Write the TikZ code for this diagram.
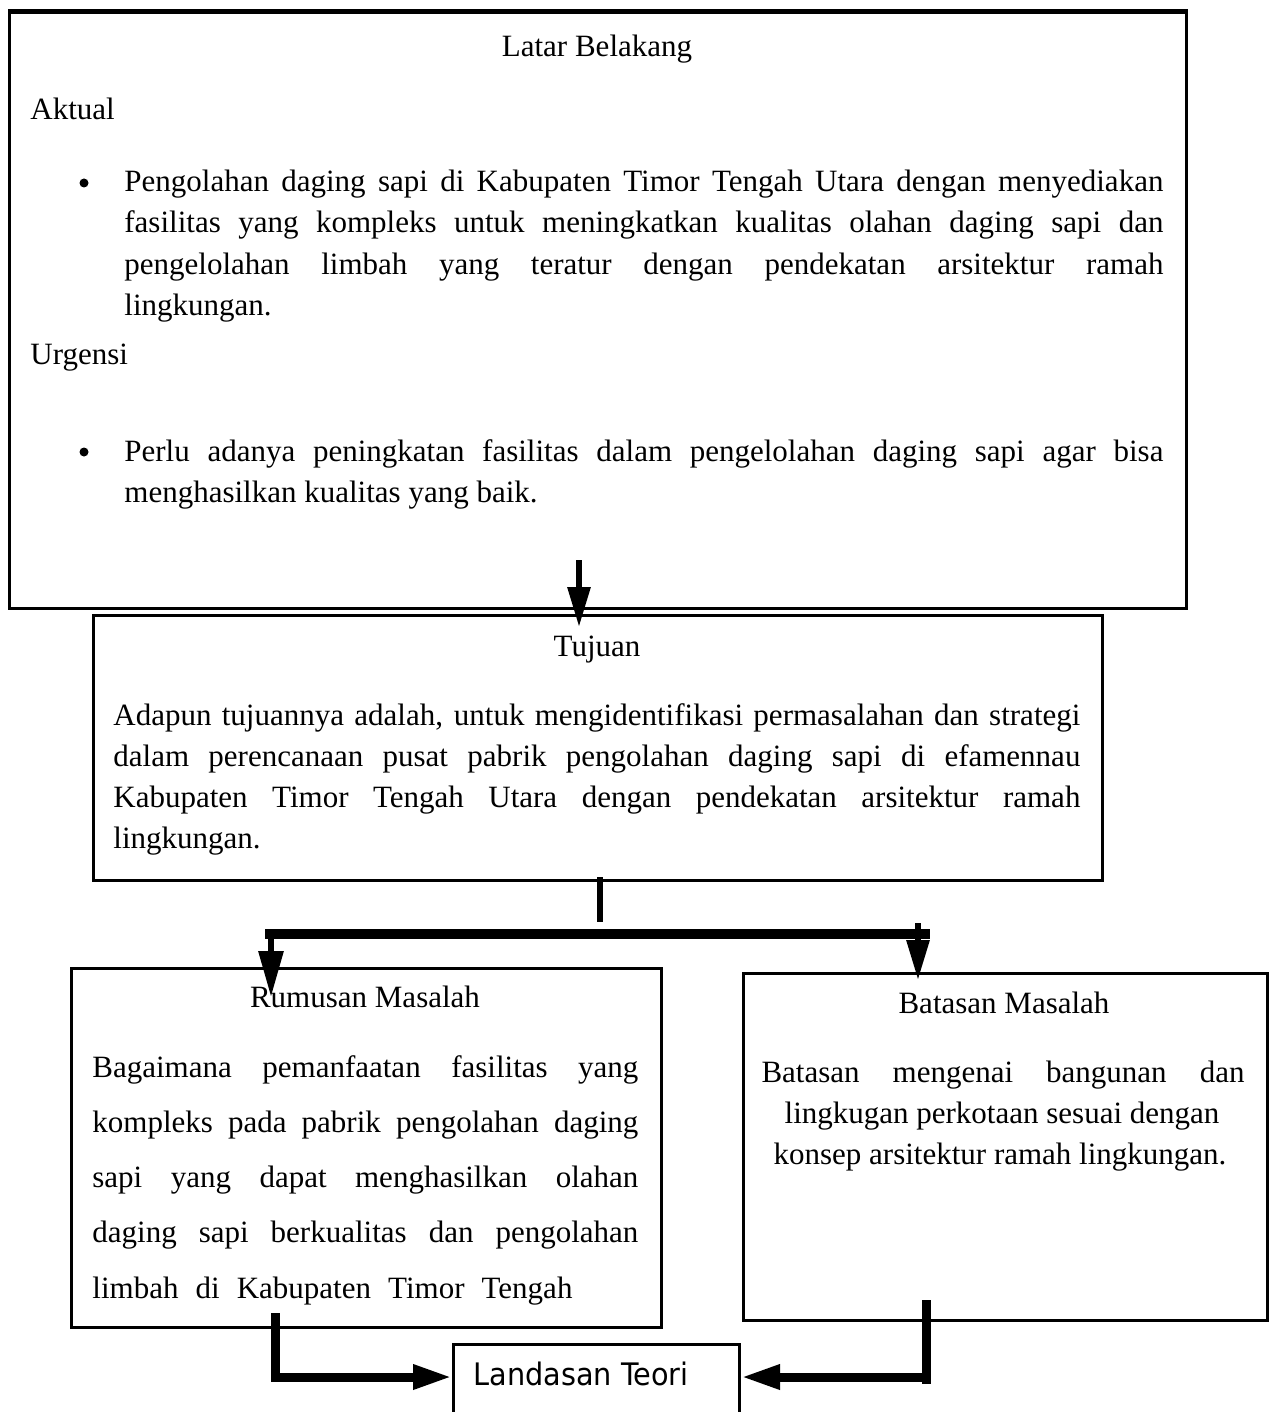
\documentclass[tikz,border=0pt]{standalone}
\usepackage{fontspec}
\setmainfont{Liberation Serif}
\newfontfamily\tahomafont[FakeStretch=0.927]{DejaVu Sans}
\usetikzlibrary{arrows.meta}
\newcommand{\jl}[2]{\makebox[#1][s]{#2}}
\begin{document}
\begin{tikzpicture}[x=0.5pt,y=-0.5pt,
  box/.style={draw, line width=1.5pt, inner sep=0, anchor=north west},
  txt/.style={anchor=base west, inner sep=0, font=\fontsize{15.5pt}{20.5pt}\selectfont},
  ctxt/.style={anchor=base, inner sep=0, font=\fontsize{15.5pt}{20.5pt}\selectfont},
  bul/.style={circle, fill, inner sep=0, minimum size=4.5pt},
  stem/.style={line width=3pt},
  bar/.style={line width=5pt},
  conn/.style={line width=4.5pt},
  arrowA/.style={line width=3pt, -{Triangle[length=20pt,width=11pt]}},
  arrowB/.style={line width=3pt, -{Triangle[length=23pt,width=12pt]}},
  arrowC/.style={line width=4.5pt, -{Triangle[length=19.5pt,width=11.5pt]}}]
\useasboundingbox (0,0) rectangle (1270,1412);
\fill[white] (0,0) rectangle (1270,1412);

% boxes
\node[box, minimum width=588.5pt, minimum height=298pt] (lb) at (8,11) {};
\draw[line width=2pt] (lb.north west) -- (lb.north east);
\node[box, minimum width=504.5pt, minimum height=132.5pt] (tj) at (92,614) {};
\node[box, minimum width=295pt, minimum height=179.5pt] (rm) at (70,967) {};
\node[box, minimum width=262pt, minimum height=173.5pt] (bt) at (742,972) {};
\node[box, minimum width=143pt, minimum height=50pt] (lt) at (452,1343) {};

% Latar Belakang
\node[ctxt] (lbt) at (597,57) {Latar Belakang};
\node[txt] (akt) at (30,120) {Aktual};
\node[bul] (b1) at (84,183) {};
\node[txt] (p1) at (124,192) {\jl{519.5pt}{Pengolahan daging sapi di Kabupaten Timor Tengah Utara dengan menyediakan}};
\node[txt] (p2) at (124,233) {\jl{519.5pt}{fasilitas yang kompleks untuk meningkatkan kualitas olahan daging sapi dan}};
\node[txt] (p3) at (124,274) {\jl{519.5pt}{pengelolahan limbah yang teratur dengan pendekatan arsitektur ramah}};
\node[txt] (p4) at (124,315) {lingkungan.};
\node[txt] (urg) at (30,364) {Urgensi};
\node[bul] (b2) at (84,452) {};
\node[txt] (q1) at (124,461) {\jl{519.5pt}{Perlu adanya peningkatan fasilitas dalam pengelolahan daging sapi agar bisa}};
\node[txt] (q2) at (124,502) {menghasilkan kualitas yang baik.};

% Tujuan
\node[ctxt] (tjt) at (597,656) {Tujuan};
\node[txt] (t1) at (113,725) {\jl{483.5pt}{Adapun tujuannya adalah, untuk mengidentifikasi permasalahan dan strategi}};
\node[txt] (t2) at (113,766) {\jl{483.5pt}{dalam perencanaan pusat pabrik pengolahan daging sapi di efamennau}};
\node[txt] (t3) at (113,807) {\jl{483.5pt}{Kabupaten Timor Tengah Utara dengan pendekatan arsitektur ramah}};
\node[txt] (t4) at (113,848) {lingkungan.};

% Rumusan Masalah
\node[ctxt] (rmt) at (365,1007) {Rumusan Masalah};
\node[txt] (r1) at (92,1077) {\jl{273pt}{Bagaimana pemanfaatan fasilitas yang}};
\node[txt] (r2) at (92,1132) {\jl{273pt}{kompleks pada pabrik pengolahan daging}};
\node[txt] (r3) at (92,1187) {\jl{273pt}{sapi yang dapat menghasilkan olahan}};
\node[txt] (r4) at (92,1242) {\jl{273pt}{daging sapi berkualitas dan pengolahan}};
\node[txt] (r5) at (92,1298) {\jl{240pt}{limbah di Kabupaten Timor Tengah}};

% Batasan Masalah
\node[ctxt] (btt) at (1004,1013) {Batasan Masalah};
\node[ctxt] (s1) at (1003,1082) {\jl{241.5pt}{Batasan mengenai bangunan dan}};
\node[ctxt] (s2) at (1002,1123) {lingkugan perkotaan sesuai dengan};
\node[ctxt] (s3) at (1000,1164) {konsep arsitektur ramah lingkungan.};

% Landasan Teori
\node[anchor=base west, inner sep=0, font=\tahomafont\fontsize{15.5pt}{18pt}\selectfont] (ltt) at (473,1385) {Landasan Teori};

% connectors
\coordinate (a0) at (579,560);
\coordinate (a1) at (579,627);
\draw[arrowA] (a0) -- (a1);

\coordinate (s0) at (600,877);
\coordinate (s9) at (600,922);
\draw[stem] (s0) -- (s9);

\coordinate (bl) at (265,934);
\coordinate (br) at (930,934);
\draw[bar] (bl) -- (br);

\coordinate (la0) at (271,934);
\coordinate (la1) at (271,997);
\draw[arrowB] (la0) -- (la1);

\coordinate (ra0) at (918,923);
\coordinate (ra1) at (918,980);
\draw[arrowA] (ra0) -- (ra1);

\coordinate (lc0) at (275,1313);
\coordinate (lc1) at (275,1377);
\draw[arrowC] (lc0) -- (lc1) -- (lt.west |- lc1);

\coordinate (rc0) at (926,1300);
\coordinate (rc1) at (926,1384);
\coordinate (rc2) at (926,1377);
\draw[conn] (rc0) -- (rc1);
\draw[arrowC] (rc2) -- (lt.east |- rc2);
\end{tikzpicture}
\end{document}
